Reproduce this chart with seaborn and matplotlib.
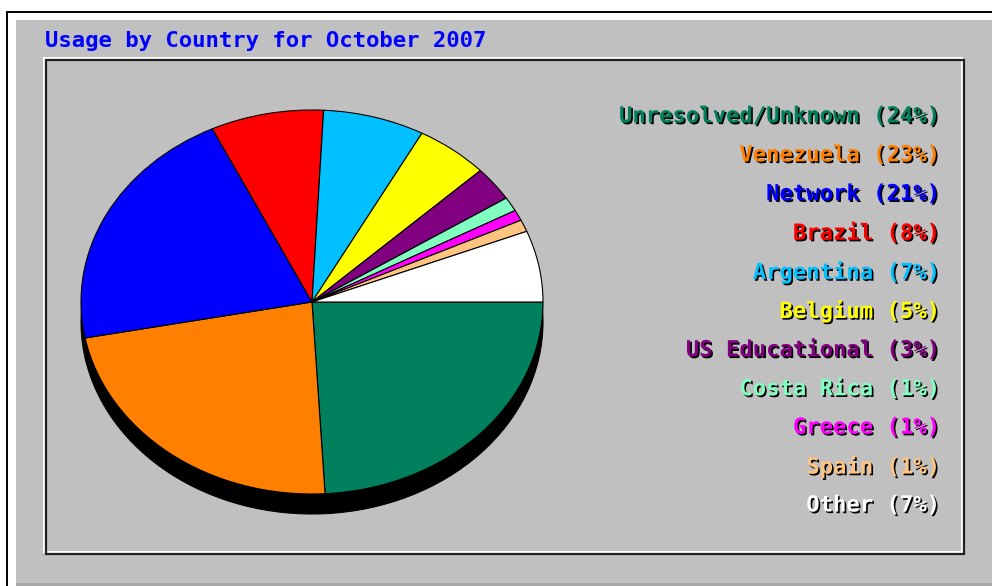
import matplotlib
matplotlib.use('Agg')
import matplotlib.pyplot as plt
import matplotlib.patheffects as pe
from matplotlib.patches import Rectangle
import seaborn as sns

# data
countries = ['Unresolved/Unknown', 'Venezuela', 'Network', 'Brazil', 'Argentina',
             'Belgium', 'US Educational', 'Costa Rica', 'Greece', 'Spain', 'Other']
pct_labels = [24, 23, 21, 8, 7, 5, 3, 1, 1, 1, 7]
# slice sizes measured from the wedge angles
shares = [24.1, 22.9, 20.9, 7.9, 7.1, 5.1, 2.9, 1.2, 0.9, 1.0, 6.0]
hex_colors = ['#00805c', '#ff8000', '#0000ff', '#ff0000', '#00c0ff', '#ffff00',
              '#800080', '#80ffc0', '#ff00ff', '#ffc480', '#ffffff']
title = 'Usage by Country for October 2007'

sns.set_theme(style='white')
plt.rcParams['font.family'] = ['DejaVu Sans Mono', 'DejaVu Sans']
colors = sns.color_palette(hex_colors)

W, H = 992, 586
fig = plt.figure(figsize=(W / 100, H / 100), dpi=100)
fig.patch.set_facecolor('white')

def box(x, y, w, h, **kw):
    # rectangle in pixel units (top-left origin), kept behind the axes
    r = Rectangle((x / W, 1 - (y + h) / H), w / W, h / H,
                  transform=fig.transFigure, zorder=-5, **kw)
    fig.patches.append(r)

# outer frame: black line, white bevel, grey panel
box(7, 12, 1000, 600, facecolor='white', edgecolor='black', linewidth=1.4)
box(16, 20, 990, 580, facecolor='#c0c0c0', edgecolor='none')
box(16, 583, 990, 5, facecolor='#a8a8a8', edgecolor='none')
# inner etched box
box(44, 58, 918, 494, facecolor='none', edgecolor='white', linewidth=1.4)
box(46, 60, 918, 494, facecolor='none', edgecolor='#202020', linewidth=1.6)

fig.text(45 / W, 1 - 41 / H, title, color='#0000ff', fontsize=16,
         fontweight='bold', ha='left', va='center')

# pie: ellipse centre (312, 302), rx 231, ry 192
cx, cy, rx, ry = 312, 302, 231, 192
ax = fig.add_axes([(cx - rx) / W, 1 - (cy + ry) / H, 2 * rx / W, 2 * ry / H])
ax.patch.set_visible(False)
ax.pie(shares, colors=['black'] * len(shares), startangle=0, counterclock=False,
       center=(0, -20 / ry), radius=1,
       wedgeprops=dict(edgecolor='black', linewidth=0.8, clip_on=False))
ax.pie(shares, colors=colors, startangle=0, counterclock=False,
       center=(0, 0), radius=1,
       wedgeprops=dict(edgecolor='black', linewidth=0.8, clip_on=False))
ax.set_aspect('auto')
ax.set_xlim(-1, 1)
ax.set_ylim(-1, 1)
ax.axis('off')

# legend labels, right aligned with a black drop shadow
for i, (name, p) in enumerate(zip(countries, pct_labels)):
    y = 116.5 + i * 38.9
    fig.text(940 / W, 1 - y / H, f'{name} ({p}%)', color=hex_colors[i],
             fontsize=16, fontweight='bold', ha='right', va='center',
             path_effects=[pe.withSimplePatchShadow(offset=(1.2, -1.2),
                                                    shadow_rgbFace='black',
                                                    alpha=1.0)])

fig.savefig('out.png', dpi=100)
